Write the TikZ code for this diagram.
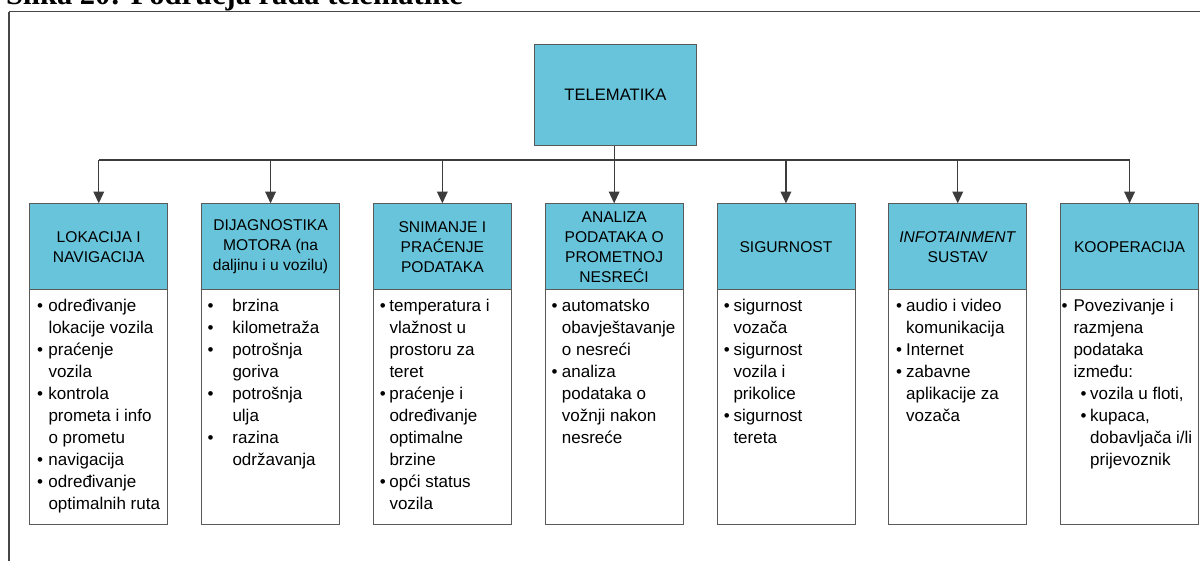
\documentclass[tikz,border=0pt]{standalone}
\usepackage{fontspec}
\setmainfont{Liberation Sans}
\newfontfamily\captionserif{Liberation Serif}
\usetikzlibrary{arrows.meta}

\definecolor{headfill}{RGB}{104,196,218}
\definecolor{boxedge}{RGB}{90,90,90}
\definecolor{wire}{RGB}{60,60,60}
\definecolor{frameline}{RGB}{70,70,70}

% bulleted line: bullet centre at #1, text starting at #2
\newcommand{\bb}[3]{\makebox[#2pt][l]{\hspace*{#1pt}\makebox[0pt]{\textbullet}}#3\strut}
% continuation line indented to #1
\newcommand{\cc}[2]{\hspace*{#1pt}#2\strut}

\begin{document}
\begin{tikzpicture}[x=1pt,y=-1pt,
  hdr/.style={draw=boxedge, line width=0.9pt, fill=headfill, minimum width=138pt,
    minimum height=86pt, anchor=north west, inner sep=0pt, align=center,
    font=\fontsize{15.6}{20}\selectfont},
  lstbox/.style={draw=boxedge, line width=0.9pt, fill=white, minimum width=138pt,
    minimum height=235.3pt, anchor=north west, inner sep=0pt},
  lsttxt/.style={anchor=north west, inner sep=0pt, align=left,
    font=\fontsize{17}{22}\selectfont},
  wire/.style={draw=wire, line width=1.2pt},
  arr/.style={wire, -{Triangle[width=10.7pt,length=11.7pt]}},
]
\useasboundingbox (0,0) rectangle (1200,560);
\clip (0,0) rectangle (1200,560);

% caption above the frame
\node[anchor=base west, inner sep=0pt, font=\captionserif\bfseries\fontsize{30.5}{34}\selectfont]
  (caption) at (6,4) {Slika 20: Područja rada telematike};

% outer frame
\draw[frameline, line width=1.1pt] (9,580) -- (9,11.5);
\draw[frameline, line width=1.5pt] (9,11.5) -- (1220,11.5);

% root
\node[draw=boxedge, line width=0.9pt, fill=headfill, minimum width=162.4pt,
  minimum height=101pt, inner sep=0pt, font=\fontsize{16.6}{20}\selectfont]
  (tel) at (615.5,95.2) {TELEMATIKA};

% list boxes (drawn first, headers on top)
\node[lstbox] (l1) at (29.3,289) {};
\node[lstbox] (l2) at (201.1,289) {};
\node[lstbox] (l3) at (372.9,289) {};
\node[lstbox] (l4) at (544.7,289) {};
\node[lstbox] (l5) at (716.5,289) {};
\node[lstbox] (l6) at (888.3,289) {};
\node[lstbox] (l7) at (1060.1,289) {};

% headers
\node[hdr] (h1) at (29.3,203.3) {LOKACIJA I\\NAVIGACIJA};
\node[hdr] (h2) at (201.1,203.3) {DIJAGNOSTIKA\\MOTORA (na\\daljinu i u vozilu)};
\node[hdr] (h3) at (372.9,203.3) {SNIMANJE I\\PRAĆENJE\\PODATAKA};
\node[hdr] (h4) at (544.7,203.3) {ANALIZA\\PODATAKA O\\PROMETNOJ\\NESREĆI};
\node[hdr] (h5) at (716.5,203.3) {SIGURNOST};
\node[hdr] (h6) at (888.3,203.3) {\textit{INFOTAINMENT}\\SUSTAV};
\node[hdr] (h7) at (1060.1,203.3) {KOOPERACIJA};

% list contents
\node[lsttxt] (t1) at (29.3,295.6) {%
  \bb{10.7}{19}{određivanje}\\
  \cc{19}{lokacije vozila}\\
  \bb{10.7}{19}{praćenje}\\
  \cc{19}{vozila}\\
  \bb{10.7}{19}{kontrola}\\
  \cc{19}{prometa i info}\\
  \cc{19}{o prometu}\\
  \bb{10.7}{19}{navigacija}\\
  \bb{10.7}{19}{određivanje}\\
  \cc{19}{optimalnih ruta}};

\node[lsttxt] (t2) at (201.1,295.6) {%
  \bb{9.2}{31.2}{brzina}\\
  \bb{9.2}{31.2}{kilometraža}\\
  \bb{9.2}{31.2}{potrošnja}\\
  \cc{31.2}{goriva}\\
  \bb{9.2}{31.2}{potrošnja}\\
  \cc{31.2}{ulja}\\
  \bb{9.2}{31.2}{razina}\\
  \cc{31.2}{održavanja}};

\node[lsttxt] (t3) at (372.9,295.6) {%
  \bb{9.8}{16.4}{temperatura i}\\
  \cc{16.4}{vlažnost u}\\
  \cc{16.4}{prostoru za}\\
  \cc{16.4}{teret}\\
  \bb{9.8}{16.4}{praćenje i}\\
  \cc{16.4}{određivanje}\\
  \cc{16.4}{optimalne}\\
  \cc{16.4}{brzine}\\
  \bb{9.8}{16.4}{opći status}\\
  \cc{16.4}{vozila}};

\node[lsttxt] (t4) at (544.7,295.6) {%
  \bb{9.6}{17}{automatsko}\\
  \cc{17}{obavještavanje}\\
  \cc{17}{o nesreći}\\
  \bb{9.6}{17}{analiza}\\
  \cc{17}{podataka o}\\
  \cc{17}{vožnji nakon}\\
  \cc{17}{nesreće}};

\node[lsttxt] (t5) at (716.5,295.6) {%
  \bb{10.2}{16.8}{sigurnost}\\
  \cc{16.8}{vozača}\\
  \bb{10.2}{16.8}{sigurnost}\\
  \cc{16.8}{vozila i}\\
  \cc{16.8}{prikolice}\\
  \bb{10.2}{16.8}{sigurnost}\\
  \cc{16.8}{tereta}};

\node[lsttxt] (t6) at (888.3,295.6) {%
  \bb{10.7}{17.7}{audio i video}\\
  \cc{17.7}{komunikacija}\\
  \bb{10.7}{17.7}{Internet}\\
  \bb{10.7}{17.7}{zabavne}\\
  \cc{17.7}{aplikacije za}\\
  \cc{17.7}{vozača}};

\node[lsttxt] (t7) at (1060.1,295.6) {%
  \bb{4.2}{13.2}{Povezivanje i}\\
  \cc{13.2}{razmjena}\\
  \cc{13.2}{podataka}\\
  \cc{13.2}{između:}\\
  \bb{23.2}{29.9}{vozila u floti,}\\
  \bb{23.2}{29.9}{kupaca,}\\
  \cc{29.9}{dobavljača i/li}\\
  \cc{29.9}{prijevoznik}};

% distribution bus and arrows
\coordinate (bus) at (614.7,160);
\draw[wire] (tel.south -| bus) -- (bus);
\draw[wire] (bus -| h1.north) -- (bus -| h7.north);
\foreach \i in {1,...,7}
  \draw[arr] (bus -| h\i.north) -- (h\i.north);

\end{tikzpicture}
\end{document}
